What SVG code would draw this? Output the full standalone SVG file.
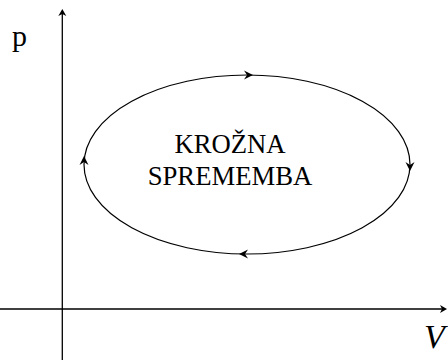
<svg xmlns="http://www.w3.org/2000/svg" width="448" height="360" viewBox="0 0 448 360">
<style>
.ax{stroke:#000;stroke-width:1.3;fill:none}
.cyc{stroke:#000;stroke-width:1.2;fill:none}
text{font-family:"Liberation Serif","Times New Roman",serif;fill:#000}
</style>
<defs>
<path id="ah" d="M0,0 L-9,-4.5 L-6,0 L-9,4.5 Z" fill="#000"/>
<path id="axh" d="M0,0 L-7,-4 L-5,0 L-7,4 Z" fill="#000"/>
</defs>
<rect width="448" height="360" fill="#fff"/>
<g id="axes">
<line class="ax" x1="62.3" y1="360" x2="62.3" y2="11"/>
<use href="#axh" transform="translate(62.3,9) rotate(-90)"/>
<line class="ax" x1="0" y1="309" x2="445" y2="309"/>
<use href="#axh" transform="translate(447,309)"/>
<text x="12" y="46" font-size="30" font-family="Liberation Serif, serif">p</text>
<text x="424" y="348" font-size="34" font-style="italic" font-family="Liberation Serif, serif">V</text>
</g>
<g id="cycle">
<ellipse class="cyc" cx="247" cy="164.5" rx="163" ry="89.5"/>
<use href="#ah" transform="translate(253,75)"/>
<use href="#ah" transform="translate(410,171) rotate(90)"/>
<use href="#ah" transform="translate(239,254) rotate(180)"/>
<use href="#ah" transform="translate(84,156) rotate(-90)"/>
</g>
<g id="label">
<text x="230" y="153" font-size="26.7" text-anchor="middle" font-family="Liberation Serif, serif">KROŽNA</text>
<text x="230" y="185" font-size="26.7" text-anchor="middle" font-family="Liberation Serif, serif">SPREMEMBA</text>
</g>
</svg>
